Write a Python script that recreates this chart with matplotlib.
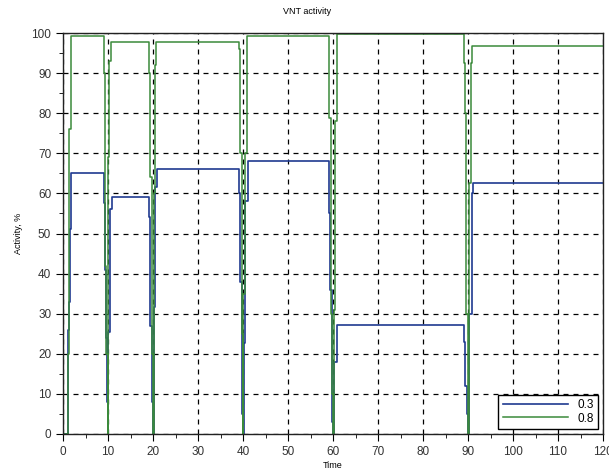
import matplotlib
matplotlib.use("Agg")
import matplotlib.pyplot as plt
from matplotlib.ticker import MultipleLocator

plt.rcParams['font.family'] = ['Liberation Sans', 'DejaVu Sans']

# Series "0.3" (blue): step data (time, activity %)
t_03 = [0, 1.0, 1.15, 1.2, 1.35, 1.5, 1.8,
        9.1, 9.3, 9.5, 9.8, 10.0, 10.1, 10.4, 10.8,
        19.0, 19.3, 19.7, 20.0, 20.2, 20.5, 20.8,
        39.1, 39.4, 39.7, 40.0, 40.2, 40.5, 41.0,
        59.1, 59.4, 59.7, 60.0, 60.3, 60.8,
        89.0, 89.4, 89.8, 90.0, 90.3, 90.8, 91.0,
        120]
v_03 = [0, 3, 16, 26, 33, 51, 65.2,
        57.5, 41, 24, 8, 0, 25.5, 56, 59,
        54, 27, 8, 0, 31.7, 61.7, 66,
        60, 38, 5, 0, 22.6, 58, 68.2,
        55, 36, 3, 0, 18, 27.3,
        23, 12, 5, 0, 30, 60, 62.5,
        62.5]

# Series "0.8" (green): step data (time, activity %)
t_08 = [0, 1.0, 1.3, 1.8,
        9.0, 9.3, 9.6, 9.9, 10.1, 10.3, 10.7,
        19.0, 19.3, 19.7, 20.0, 20.2, 20.35, 20.6,
        39.1, 39.4, 39.7, 40.0, 40.1, 40.4, 40.8,
        59.1, 59.5, 59.8, 60.0, 60.3, 60.5, 60.9,
        89.0, 89.3, 89.6, 90.0, 90.3, 90.6, 90.9,
        120]
v_08 = [0, 20, 76, 99.3,
        90, 42, 20, 0, 69, 93, 97.7,
        90, 64, 20, 0, 60, 92, 97.7,
        96, 70, 25, 0, 35, 70, 99.3,
        78.8, 30, 10, 0, 31, 78, 99.7,
        92.5, 80, 30, 0, 62.6, 92.5, 96.8,
        96.8]

x_ticks = list(range(0, 121, 10))
y_ticks = list(range(0, 101, 10))

fig = plt.figure(figsize=(6.09, 4.70), dpi=100)
ax = fig.add_axes([63/609, 1-434/470, 540/609, 401/470])

ax.plot(t_03, v_03, drawstyle='steps-post', color='#1f3a90', lw=1.2, label='0.3')
ax.plot(t_08, v_08, drawstyle='steps-post', color='#3a8a3a', lw=1.1, label='0.8')

ax.set_xlim(0, 120)
ax.set_ylim(0, 100)
ax.set_xticks(x_ticks)
ax.set_yticks(y_ticks)
ax.xaxis.set_minor_locator(MultipleLocator(5))
ax.yaxis.set_minor_locator(MultipleLocator(5))
ax.tick_params(which='both', direction='out', colors='black', labelcolor='#333333', labelsize=8.5)
ax.tick_params(which='major', length=5)
ax.tick_params(which='minor', length=3)
ax.grid(True, which='major', color='black', linestyle=(0, (4, 4)), lw=0.9)

for s in ax.spines.values():
    s.set_linewidth(1.0)
    s.set_color('#222222')

fig.text(307/609, 1-12/470, 'VNT activity', fontsize=6.5, ha='center', va='center')
ax.set_xlabel('Time', fontsize=6.5, labelpad=2)
ax.set_ylabel('Activity, %', fontsize=6.5, labelpad=6)

leg = ax.legend(loc='lower right', fontsize=8.5, frameon=True, fancybox=False,
                edgecolor='black', framealpha=1, handlelength=5.5,
                borderaxespad=0.4, labelspacing=0.1, borderpad=0.4)
leg.get_frame().set_linewidth(1.0)

fig.savefig('out.png', dpi=100)
